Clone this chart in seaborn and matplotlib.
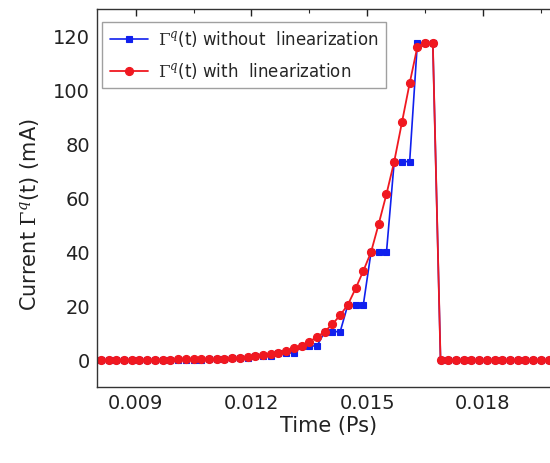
import numpy as np
import pandas as pd
import matplotlib
matplotlib.use("Agg")
import matplotlib.pyplot as plt
import seaborn as sns
from matplotlib.ticker import MultipleLocator

# Time axis (Ps): samples every 0.0002 from 0.0081 to 0.0199
time = [round(0.0081 + 0.0002 * i, 4) for i in range(60)]

# Gamma^q(t) without linearization (step-like), mA
without_lin = [0.01, 0.01, 0.02, 0.02, 0.02, 0.04, 0.04, 0.04, 0.08, 0.08,
               0.08, 0.17, 0.17, 0.17, 0.33, 0.33, 0.33, 0.65, 0.65, 0.65,
               1.3, 1.3, 1.3, 2.6, 2.6, 2.6, 5.2, 5.2, 5.2, 10.5,
               10.5, 10.5, 20.5, 20.5, 20.5, 40.0, 40.0, 40.0, 73.5, 73.5,
               73.5, 117.5, 117.5, 117.5,
               0, 0, 0, 0, 0, 0, 0, 0, 0, 0, 0, 0, 0, 0, 0, 0]

# Gamma^q(t) with linearization (smooth), mA
with_lin = [0.05, 0.06, 0.07, 0.08, 0.09, 0.1, 0.11, 0.13, 0.15, 0.17,
            0.2, 0.23, 0.27, 0.3, 0.35, 0.45, 0.55, 0.7, 0.9, 1.1,
            1.4, 1.7, 2.1, 2.7, 3.4, 4.3, 5.3, 6.8, 8.5, 10.5,
            13.3, 16.6, 20.5, 26.5, 33.0, 40.0, 50.5, 61.5, 73.5, 88.0,
            102.5, 116.0, 117.5, 117.5,
            0, 0, 0, 0, 0, 0, 0, 0, 0, 0, 0, 0, 0, 0, 0, 0]

x_ticks = [0.009, 0.012, 0.015, 0.018]
x_tick_labels = ["0.009", "0.012", "0.015", "0.018"]

df = pd.DataFrame({"time": time, "without": without_lin, "with": with_lin})

sns.set_theme(style="white")
plt.rcParams['font.family'] = ['DejaVu Sans']
plt.rcParams['mathtext.fontset'] = 'dejavuserif'

BLUE = "#1020ee"
RED = "#f01820"

fig = plt.figure(figsize=(5.5, 4.63), dpi=100)
ax = fig.add_axes([97 / 550, 1 - 387 / 463, 463.2 / 550, (387 - 9) / 463])

sns.lineplot(data=df, x="time", y="without", ax=ax, color=BLUE,
             marker="s", markersize=4.2, markeredgewidth=0.8,
             markeredgecolor=BLUE, markerfacecolor=BLUE, linewidth=1.2,
             label=r"$\Gamma^{q}$(t) without  linearization")
sns.lineplot(data=df, x="time", y="with", ax=ax, color=RED,
             marker="o", markersize=5.8, markeredgewidth=0.8,
             markeredgecolor=RED, markerfacecolor=RED, linewidth=1.3,
             label=r"$\Gamma^{q}$(t) with  linearization")

ax.set_xlim(0.008, 0.020)
ax.set_ylim(-10, 130)
ax.xaxis.set_minor_locator(MultipleLocator(0.0015))
ax.yaxis.set_major_locator(MultipleLocator(20))
ax.yaxis.set_minor_locator(MultipleLocator(10))
ax.set_xticks(x_ticks)
ax.set_xticklabels(x_tick_labels)
ax.tick_params(axis="both", which="major", direction="in", length=5, width=1,
               labelsize=14, colors="#222222", top=True, right=True, pad=5)
ax.tick_params(axis="both", which="minor", direction="in", length=3, width=0.8,
               top=True, right=True)
for s in ax.spines.values():
    s.set_color("#333333")
    s.set_linewidth(1.0)

ax.set_xlabel("Time (Ps)", fontsize=15, color="#222222", labelpad=2)
ax.set_ylabel(r"Current $\Gamma^{q}$(t) (mA)", fontsize=15, color="#222222")
ax.yaxis.set_label_coords(-0.12, 0.455)

leg = ax.legend(loc="upper left", bbox_to_anchor=(0.0, 0.98), fontsize=12,
                frameon=True, fancybox=False, edgecolor="#888888",
                handlelength=2.3, borderpad=0.45, labelspacing=0.7,
                handletextpad=0.6, borderaxespad=0.3)
leg.get_frame().set_linewidth(1.0)

fig.savefig("out.png", dpi=100)
